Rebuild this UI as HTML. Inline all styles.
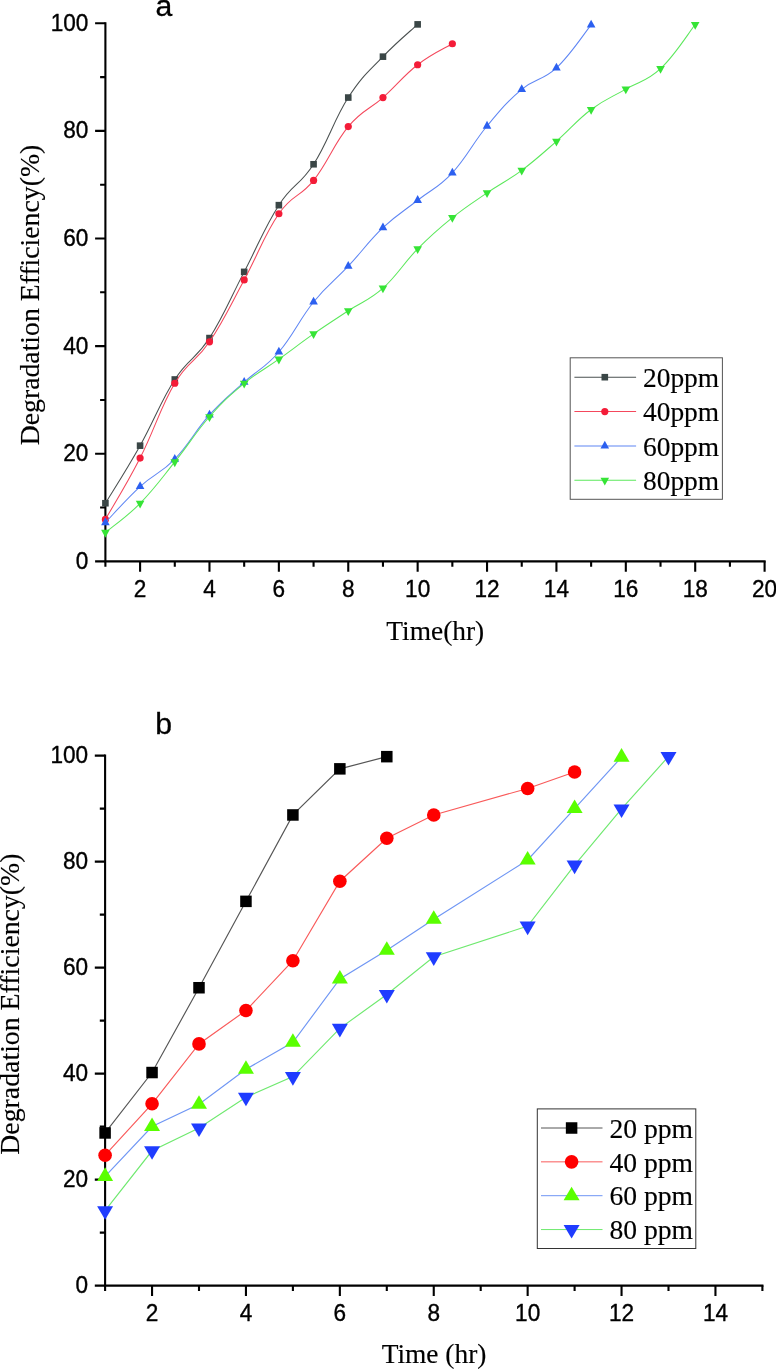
<!DOCTYPE html>
<html lang="en"><head><meta charset="utf-8"><title>Degradation efficiency vs time</title>
<style>html,body{margin:0;padding:0;background:#fff}body{width:776px;height:1369px;overflow:hidden}svg{display:block}text{white-space:pre}</style>
</head><body>
<svg width="776" height="1369" viewBox="0 0 776 1369">
<rect width="776" height="1369" fill="#fff"/>
<g>
<g stroke="#000" stroke-width="2.1" fill="none"><path d="M105.4,22.25 V561.35 H765.65"/><path d="M105.4,561.35H95.1M105.4,507.55H100.1M105.4,453.74H95.1M105.4,399.94H100.1M105.4,346.13H95.1M105.4,292.32H100.1M105.4,238.52H95.1M105.4,184.71H100.1M105.4,130.91H95.1M105.4,77.1H100.1M105.4,23.3H95.1M105.4,561.35V566.65M140.09,561.35V571.65M174.79,561.35V566.65M209.48,561.35V571.65M244.18,561.35V566.65M278.87,561.35V571.65M313.57,561.35V566.65M348.26,561.35V571.65M382.96,561.35V566.65M417.65,561.35V571.65M452.35,561.35V566.65M487.04,561.35V571.65M521.74,561.35V566.65M556.43,561.35V571.65M591.13,561.35V566.65M625.82,561.35V571.65M660.52,561.35V566.65M695.21,561.35V571.65M729.91,561.35V566.65M764.6,561.35V571.65"/></g>
<g font-family='"Liberation Sans", Arial, Helvetica, sans-serif' font-size="22.6" fill="#000" stroke="#000" stroke-width="0.35" stroke-linejoin="round">
<g text-anchor="end">
<text transform="translate(88.4,568.85) scale(1,1.02)">0</text>
<text transform="translate(88.4,461.24) scale(1,1.02)">20</text>
<text transform="translate(88.4,353.63) scale(1,1.02)">40</text>
<text transform="translate(88.4,246.02) scale(1,1.02)">60</text>
<text transform="translate(88.4,138.41) scale(1,1.02)">80</text>
<text transform="translate(88.4,30.8) scale(1,1.02)">100</text>
</g><g text-anchor="middle">
<text transform="translate(140.09,596.75) scale(1,1.02)">2</text>
<text transform="translate(209.48,596.75) scale(1,1.02)">4</text>
<text transform="translate(278.87,596.75) scale(1,1.02)">6</text>
<text transform="translate(348.26,596.75) scale(1,1.02)">8</text>
<text transform="translate(417.65,596.75) scale(1,1.02)">10</text>
<text transform="translate(487.04,596.75) scale(1,1.02)">12</text>
<text transform="translate(556.43,596.75) scale(1,1.02)">14</text>
<text transform="translate(625.82,596.75) scale(1,1.02)">16</text>
<text transform="translate(695.21,596.75) scale(1,1.02)">18</text>
<text transform="translate(764.6,596.75) scale(1,1.02)">20</text>
</g></g>
<g font-family='"Liberation Serif", "Times New Roman", Times, serif' font-size="27.4" fill="#000" stroke="#000" stroke-width="0.15" stroke-linejoin="round" text-anchor="middle">
<text transform="translate(38.8,295) rotate(-90)" font-size="27.72">Degradation Efficiency(%)</text>
<text x="435.3" y="639.5">Time(hr)</text>
</g>
<text x="155.6" y="15.5" font-family='"Liberation Sans", Arial, Helvetica, sans-serif' font-size="30.2" fill="#000" stroke="#000" stroke-width="0.3" stroke-linejoin="round">a</text>
<path d="M105.4,503.24C112.57,491.34 125.75,471.24 140.09,445.67C154.44,420.09 160.45,401.73 174.79,379.49C189.13,357.25 195.14,360.3 209.48,338.06C223.82,315.82 229.84,299.34 244.18,271.88C258.52,244.41 264.53,227.4 278.87,205.16C293.21,182.92 299.23,186.51 313.57,164.27C327.91,142.03 333.92,119.79 348.26,97.55C362.6,75.31 368.62,71.78 382.96,56.66C397.3,41.54 410.48,31.05 417.65,24.38" fill="none" stroke="#4a5050" stroke-width="1.05"/>
<g><rect x="102.1" y="499.94" width="6.6" height="6.6" fill="#3a4646"/><rect x="136.79" y="442.37" width="6.6" height="6.6" fill="#3a4646"/><rect x="171.49" y="376.19" width="6.6" height="6.6" fill="#3a4646"/><rect x="206.18" y="334.76" width="6.6" height="6.6" fill="#3a4646"/><rect x="240.88" y="268.58" width="6.6" height="6.6" fill="#3a4646"/><rect x="275.57" y="201.86" width="6.6" height="6.6" fill="#3a4646"/><rect x="310.27" y="160.97" width="6.6" height="6.6" fill="#3a4646"/><rect x="344.96" y="94.25" width="6.6" height="6.6" fill="#3a4646"/><rect x="379.66" y="53.36" width="6.6" height="6.6" fill="#3a4646"/><rect x="414.35" y="21.08" width="6.6" height="6.6" fill="#3a4646"/></g>
<path d="M105.4,519.38C112.57,506.71 125.75,486.18 140.09,458.04C154.44,429.91 160.45,407.27 174.79,383.26C189.13,359.24 195.14,363.18 209.48,341.83C223.82,320.48 229.84,306.41 244.18,279.95C258.52,253.48 264.53,234.34 278.87,213.77C293.21,193.2 299.23,198.42 313.57,180.41C327.91,162.4 333.92,143.73 348.26,126.61C362.6,109.48 368.62,110.34 382.96,97.55C397.3,84.76 403.31,75.85 417.65,64.73C431.99,53.61 445.18,48.08 452.35,43.75" fill="none" stroke="#f4485c" stroke-width="1.05"/>
<g><circle cx="105.4" cy="519.38" r="3.6" fill="#f41c38"/><circle cx="140.09" cy="458.04" r="3.6" fill="#f41c38"/><circle cx="174.79" cy="383.26" r="3.6" fill="#f41c38"/><circle cx="209.48" cy="341.83" r="3.6" fill="#f41c38"/><circle cx="244.18" cy="279.95" r="3.6" fill="#f41c38"/><circle cx="278.87" cy="213.77" r="3.6" fill="#f41c38"/><circle cx="313.57" cy="180.41" r="3.6" fill="#f41c38"/><circle cx="348.26" cy="126.61" r="3.6" fill="#f41c38"/><circle cx="382.96" cy="97.55" r="3.6" fill="#f41c38"/><circle cx="417.65" cy="64.73" r="3.6" fill="#f41c38"/><circle cx="452.35" cy="43.75" r="3.6" fill="#f41c38"/></g>
<path d="M105.4,522.57C112.57,515.12 125.75,499.64 140.09,486.52C154.44,473.4 160.45,473.87 174.79,459.08C189.13,444.29 195.14,430.86 209.48,414.96C223.82,399.06 229.84,395.15 244.18,382.14C258.52,369.13 264.53,368.58 278.87,352.01C293.21,335.44 299.23,319.71 313.57,301.97C327.91,284.24 333.92,281.54 348.26,266.19C362.6,250.85 368.62,241.34 382.96,227.72C397.3,214.1 403.31,211.62 417.65,200.28C431.99,188.94 438.01,188.19 452.35,172.84C466.69,157.49 472.7,143.27 487.04,126.03C501.38,108.79 507.4,101.45 521.74,89.44C536.08,77.43 542.09,81.26 556.43,67.92C570.77,54.58 583.96,33.77 591.13,24.88" fill="none" stroke="#5f86f4" stroke-width="1.05"/>
<g><path d="M101.1,525.17L109.7,525.17L105.4,517.37Z" fill="#2c60f0"/><path d="M135.79,489.12L144.39,489.12L140.09,481.32Z" fill="#2c60f0"/><path d="M170.49,461.68L179.09,461.68L174.79,453.88Z" fill="#2c60f0"/><path d="M205.18,417.56L213.78,417.56L209.48,409.76Z" fill="#2c60f0"/><path d="M239.88,384.74L248.48,384.74L244.18,376.94Z" fill="#2c60f0"/><path d="M274.57,354.61L283.17,354.61L278.87,346.81Z" fill="#2c60f0"/><path d="M309.27,304.57L317.87,304.57L313.57,296.77Z" fill="#2c60f0"/><path d="M343.96,268.79L352.56,268.79L348.26,260.99Z" fill="#2c60f0"/><path d="M378.66,230.32L387.26,230.32L382.96,222.52Z" fill="#2c60f0"/><path d="M413.35,202.88L421.95,202.88L417.65,195.08Z" fill="#2c60f0"/><path d="M448.05,175.44L456.65,175.44L452.35,167.64Z" fill="#2c60f0"/><path d="M482.74,128.63L491.34,128.63L487.04,120.83Z" fill="#2c60f0"/><path d="M517.44,92.04L526.04,92.04L521.74,84.24Z" fill="#2c60f0"/><path d="M552.13,70.52L560.73,70.52L556.43,62.72Z" fill="#2c60f0"/><path d="M586.83,27.48L595.43,27.48L591.13,19.68Z" fill="#2c60f0"/></g>
<path d="M105.4,532.43C112.57,526.43 125.75,517.95 140.09,503.38C154.44,488.81 160.45,479.85 174.79,461.95C189.13,444.05 195.14,432.99 209.48,416.75C223.82,400.52 229.84,395.29 244.18,383.39C258.52,371.5 264.53,369.41 278.87,359.18C293.21,348.95 299.23,343.9 313.57,333.89C327.91,323.89 333.92,320.21 348.26,310.76C362.6,301.31 368.62,300.95 382.96,288.16C397.3,275.37 403.31,263.45 417.65,248.88C431.99,234.31 438.01,229.24 452.35,217.67C466.69,206.11 472.7,202.71 487.04,192.92C501.38,183.14 507.4,181 521.74,170.33C536.08,159.65 542.09,153.84 556.43,141.27C570.77,128.71 576.79,120.31 591.13,109.53C605.47,98.74 611.48,97.53 625.82,89.08C640.16,80.63 646.18,81.98 660.52,68.63C674.86,55.29 688.04,33.63 695.21,24.51" fill="none" stroke="#5ce85c" stroke-width="1.05"/>
<g><path d="M101.1,529.83L109.7,529.83L105.4,537.63Z" fill="#36e436"/><path d="M135.79,500.78L144.39,500.78L140.09,508.58Z" fill="#36e436"/><path d="M170.49,459.35L179.09,459.35L174.79,467.15Z" fill="#36e436"/><path d="M205.18,414.15L213.78,414.15L209.48,421.95Z" fill="#36e436"/><path d="M239.88,380.79L248.48,380.79L244.18,388.59Z" fill="#36e436"/><path d="M274.57,356.58L283.17,356.58L278.87,364.38Z" fill="#36e436"/><path d="M309.27,331.29L317.87,331.29L313.57,339.09Z" fill="#36e436"/><path d="M343.96,308.16L352.56,308.16L348.26,315.96Z" fill="#36e436"/><path d="M378.66,285.56L387.26,285.56L382.96,293.36Z" fill="#36e436"/><path d="M413.35,246.28L421.95,246.28L417.65,254.08Z" fill="#36e436"/><path d="M448.05,215.07L456.65,215.07L452.35,222.87Z" fill="#36e436"/><path d="M482.74,190.32L491.34,190.32L487.04,198.12Z" fill="#36e436"/><path d="M517.44,167.73L526.04,167.73L521.74,175.53Z" fill="#36e436"/><path d="M552.13,138.67L560.73,138.67L556.43,146.47Z" fill="#36e436"/><path d="M586.83,106.93L595.43,106.93L591.13,114.73Z" fill="#36e436"/><path d="M621.52,86.48L630.12,86.48L625.82,94.28Z" fill="#36e436"/><path d="M656.22,66.03L664.82,66.03L660.52,73.83Z" fill="#36e436"/><path d="M690.91,21.91L699.51,21.91L695.21,29.71Z" fill="#36e436"/></g>
<rect x="570.2" y="357.8" width="152.2" height="141.5" fill="#fff" stroke="#555" stroke-width="1"/>
<g font-family='"Liberation Serif", "Times New Roman", Times, serif' font-size="27.4" fill="#000">
<path d="M574.4,377.2H636.1" stroke="#4a5050" stroke-width="1.05" fill="none"/>
<rect x="601.5" y="373.9" width="6.6" height="6.6" fill="#3a4646"/>
<text x="643" y="386.8" stroke="#000" stroke-width="0.15" stroke-linejoin="round">20ppm</text>
<path d="M574.4,411.55H636.1" stroke="#f4485c" stroke-width="1.05" fill="none"/>
<circle cx="604.8" cy="411.55" r="3.6" fill="#f41c38"/>
<text x="643" y="421.15" stroke="#000" stroke-width="0.15" stroke-linejoin="round">40ppm</text>
<path d="M574.4,445.9H636.1" stroke="#5f86f4" stroke-width="1.05" fill="none"/>
<path d="M600.5,448.5L609.1,448.5L604.8,440.7Z" fill="#2c60f0"/>
<text x="643" y="455.5" stroke="#000" stroke-width="0.15" stroke-linejoin="round">60ppm</text>
<path d="M574.4,480.25H636.1" stroke="#5ce85c" stroke-width="1.05" fill="none"/>
<path d="M600.5,477.65L609.1,477.65L604.8,485.45Z" fill="#36e436"/>
<text x="643" y="489.85" stroke="#000" stroke-width="0.15" stroke-linejoin="round">80ppm</text>
</g>
</g>
<g>
<g stroke="#000" stroke-width="2.1" fill="none"><path d="M105.1,754.55 V1285.6 H763.45"/><path d="M105.1,1285.6H94.8M105.1,1232.6H99.8M105.1,1179.6H94.8M105.1,1126.6H99.8M105.1,1073.6H94.8M105.1,1020.6H99.8M105.1,967.6H94.8M105.1,914.6H99.8M105.1,861.6H94.8M105.1,808.6H99.8M105.1,755.6H94.8M105.1,1285.6V1290.9M152.05,1285.6V1295.9M199,1285.6V1290.9M245.95,1285.6V1295.9M292.9,1285.6V1290.9M339.85,1285.6V1295.9M386.8,1285.6V1290.9M433.75,1285.6V1295.9M480.7,1285.6V1290.9M527.65,1285.6V1295.9M574.6,1285.6V1290.9M621.55,1285.6V1295.9M668.5,1285.6V1290.9M715.45,1285.6V1295.9M762.4,1285.6V1290.9"/></g>
<g font-family='"Liberation Sans", Arial, Helvetica, sans-serif' font-size="22.6" fill="#000" stroke="#000" stroke-width="0.35" stroke-linejoin="round">
<g text-anchor="end">
<text transform="translate(88.1,1292.7) scale(1,1.02)">0</text>
<text transform="translate(88.1,1186.7) scale(1,1.02)">20</text>
<text transform="translate(88.1,1080.7) scale(1,1.02)">40</text>
<text transform="translate(88.1,974.7) scale(1,1.02)">60</text>
<text transform="translate(88.1,868.7) scale(1,1.02)">80</text>
<text transform="translate(88.1,762.7) scale(1,1.02)">100</text>
</g><g text-anchor="middle">
<text transform="translate(152.05,1320.7) scale(1,1.02)">2</text>
<text transform="translate(245.95,1320.7) scale(1,1.02)">4</text>
<text transform="translate(339.85,1320.7) scale(1,1.02)">6</text>
<text transform="translate(433.75,1320.7) scale(1,1.02)">8</text>
<text transform="translate(527.65,1320.7) scale(1,1.02)">10</text>
<text transform="translate(621.55,1320.7) scale(1,1.02)">12</text>
<text transform="translate(715.45,1320.7) scale(1,1.02)">14</text>
</g></g>
<g font-family='"Liberation Serif", "Times New Roman", Times, serif' font-size="27.4" fill="#000" stroke="#000" stroke-width="0.15" stroke-linejoin="round" text-anchor="middle">
<text transform="translate(19,1004.1) rotate(-90)" font-size="27.8">Degradation Efficiency(%)</text>
<text x="434" y="1362.7">Time (hr)</text>
</g>
<text x="155.3" y="733.8" font-family='"Liberation Sans", Arial, Helvetica, sans-serif' font-size="30.2" fill="#000" stroke="#000" stroke-width="0.3" stroke-linejoin="round">b</text>
<path d="M105.1,1132.96L152.05,1072.54L199,987.74L245.95,901.35L292.9,814.96L339.85,768.85L386.8,756.66" fill="none" stroke="#555" stroke-width="1.15"/>
<g><rect x="99.35" y="1127.21" width="11.5" height="11.5" fill="#000"/><rect x="146.3" y="1066.79" width="11.5" height="11.5" fill="#000"/><rect x="193.25" y="981.99" width="11.5" height="11.5" fill="#000"/><rect x="240.2" y="895.6" width="11.5" height="11.5" fill="#000"/><rect x="287.15" y="809.21" width="11.5" height="11.5" fill="#000"/><rect x="334.1" y="763.1" width="11.5" height="11.5" fill="#000"/><rect x="381.05" y="750.91" width="11.5" height="11.5" fill="#000"/></g>
<path d="M105.1,1155.22L152.05,1103.81L199,1043.92L245.95,1010.53L292.9,960.71L339.85,881.21L386.8,838.28L433.75,814.96L527.65,788.46L574.6,772.03" fill="none" stroke="#f95a5a" stroke-width="1.15"/>
<g><circle cx="105.1" cy="1155.22" r="6.8" fill="#ff0000"/><circle cx="152.05" cy="1103.81" r="6.8" fill="#ff0000"/><circle cx="199" cy="1043.92" r="6.8" fill="#ff0000"/><circle cx="245.95" cy="1010.53" r="6.8" fill="#ff0000"/><circle cx="292.9" cy="960.71" r="6.8" fill="#ff0000"/><circle cx="339.85" cy="881.21" r="6.8" fill="#ff0000"/><circle cx="386.8" cy="838.28" r="6.8" fill="#ff0000"/><circle cx="433.75" cy="814.96" r="6.8" fill="#ff0000"/><circle cx="527.65" cy="788.46" r="6.8" fill="#ff0000"/><circle cx="574.6" cy="772.03" r="6.8" fill="#ff0000"/></g>
<path d="M105.1,1176.37L152.05,1126.55L199,1104.29L245.95,1069.31L292.9,1042.28L339.85,978.94L386.8,950.32L433.75,919.32L527.65,859.96L574.6,808.55L621.55,757.14" fill="none" stroke="#6f96f4" stroke-width="1.15"/>
<g><path d="M97.1,1180.9L113.1,1180.9L105.1,1167.3Z" fill="#5aff00"/><path d="M144.05,1131.08L160.05,1131.08L152.05,1117.48Z" fill="#5aff00"/><path d="M191,1108.82L207,1108.82L199,1095.22Z" fill="#5aff00"/><path d="M237.95,1073.84L253.95,1073.84L245.95,1060.24Z" fill="#5aff00"/><path d="M284.9,1046.81L300.9,1046.81L292.9,1033.21Z" fill="#5aff00"/><path d="M331.85,983.48L347.85,983.48L339.85,969.88Z" fill="#5aff00"/><path d="M378.8,954.86L394.8,954.86L386.8,941.26Z" fill="#5aff00"/><path d="M425.75,923.85L441.75,923.85L433.75,910.25Z" fill="#5aff00"/><path d="M519.65,864.49L535.65,864.49L527.65,850.89Z" fill="#5aff00"/><path d="M566.6,813.08L582.6,813.08L574.6,799.48Z" fill="#5aff00"/><path d="M613.55,761.67L629.55,761.67L621.55,748.07Z" fill="#5aff00"/></g>
<path d="M105.1,1210.69L152.05,1150.8L199,1128.01L245.95,1097.27L292.9,1076.6L339.85,1028.37L386.8,994.45L433.75,956.82L527.65,926.08L574.6,865.13L621.55,808.95L668.5,756.48" fill="none" stroke="#6fe96f" stroke-width="1.15"/>
<g><path d="M97.1,1206.16L113.1,1206.16L105.1,1219.76Z" fill="#1f3cff"/><path d="M144.05,1146.27L160.05,1146.27L152.05,1159.87Z" fill="#1f3cff"/><path d="M191,1123.48L207,1123.48L199,1137.08Z" fill="#1f3cff"/><path d="M237.95,1092.74L253.95,1092.74L245.95,1106.34Z" fill="#1f3cff"/><path d="M284.9,1072.07L300.9,1072.07L292.9,1085.67Z" fill="#1f3cff"/><path d="M331.85,1023.84L347.85,1023.84L339.85,1037.44Z" fill="#1f3cff"/><path d="M378.8,989.92L394.8,989.92L386.8,1003.52Z" fill="#1f3cff"/><path d="M425.75,952.29L441.75,952.29L433.75,965.89Z" fill="#1f3cff"/><path d="M519.65,921.55L535.65,921.55L527.65,935.15Z" fill="#1f3cff"/><path d="M566.6,860.6L582.6,860.6L574.6,874.2Z" fill="#1f3cff"/><path d="M613.55,804.42L629.55,804.42L621.55,818.02Z" fill="#1f3cff"/><path d="M660.5,751.95L676.5,751.95L668.5,765.55Z" fill="#1f3cff"/></g>
<rect x="537.3" y="1108.9" width="158.5" height="139.6" fill="#fff" stroke="#333" stroke-width="1"/>
<g font-family='"Liberation Serif", "Times New Roman", Times, serif' font-size="27.6" fill="#000">
<path d="M541,1128H602.5" stroke="#555" stroke-width="1" fill="none"/>
<rect x="565.85" y="1122.25" width="11.5" height="11.5" fill="#000"/>
<text x="609.5" y="1137.7" stroke="#000" stroke-width="0.15" stroke-linejoin="round">20 ppm</text>
<path d="M541,1161.85H602.5" stroke="#f95a5a" stroke-width="1" fill="none"/>
<circle cx="571.6" cy="1161.85" r="6.8" fill="#ff0000"/>
<text x="609.5" y="1171.55" stroke="#000" stroke-width="0.15" stroke-linejoin="round">40 ppm</text>
<path d="M541,1195.7H602.5" stroke="#6f96f4" stroke-width="1" fill="none"/>
<path d="M563.6,1200.23L579.6,1200.23L571.6,1186.63Z" fill="#5aff00"/>
<text x="609.5" y="1205.4" stroke="#000" stroke-width="0.15" stroke-linejoin="round">60 ppm</text>
<path d="M541,1229.55H602.5" stroke="#6fe96f" stroke-width="1" fill="none"/>
<path d="M563.6,1225.02L579.6,1225.02L571.6,1238.62Z" fill="#1f3cff"/>
<text x="609.5" y="1239.25" stroke="#000" stroke-width="0.15" stroke-linejoin="round">80 ppm</text>
</g>
</g>
</svg></body></html>
